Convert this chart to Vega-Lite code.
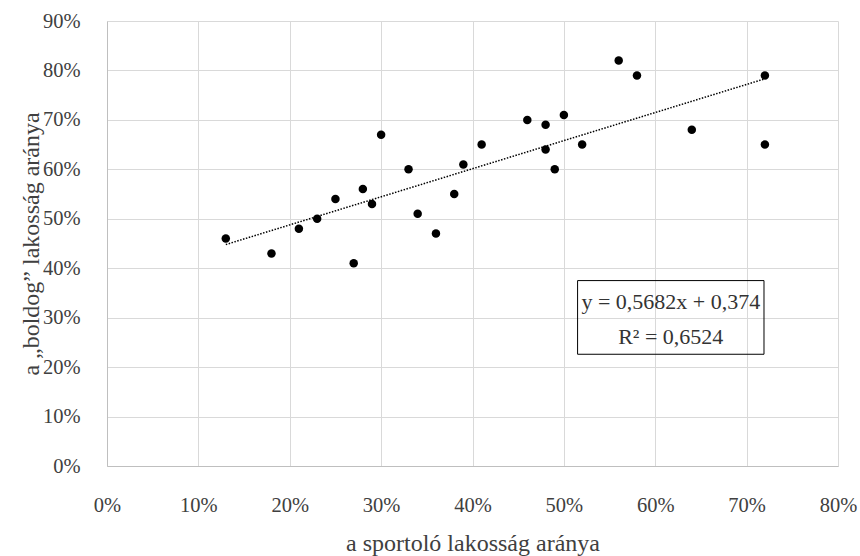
{
  "$schema": "https://vega.github.io/schema/vega-lite/v6.json",
  "width": 731,
  "height": 445,
  "autosize": "none",
  "padding": {"left": 107, "top": 21, "right": 22, "bottom": 90},
  "background": "white",
  "config": {
    "font": "Liberation Serif",
    "view": {"stroke": null},
    "axis": {
      "labelFont": "Liberation Serif",
      "labelFontSize": 20.5,
      "labelColor": "#404040",
      "labelFlush": false,
      "titleFont": "Liberation Serif",
      "titleFontSize": 24,
      "titleFontWeight": "normal",
      "titleColor": "#404040",
      "gridColor": "#d9d9d9",
      "gridWidth": 1,
      "domainColor": "#bfbfbf",
      "domainWidth": 1,
      "ticks": false
    }
  },
  "datasets": {
    "points": [
      {"sport": 0.13, "happy": 0.46},
      {"sport": 0.18, "happy": 0.43},
      {"sport": 0.21, "happy": 0.48},
      {"sport": 0.23, "happy": 0.50},
      {"sport": 0.25, "happy": 0.54},
      {"sport": 0.27, "happy": 0.41},
      {"sport": 0.28, "happy": 0.56},
      {"sport": 0.29, "happy": 0.53},
      {"sport": 0.30, "happy": 0.67},
      {"sport": 0.33, "happy": 0.60},
      {"sport": 0.34, "happy": 0.51},
      {"sport": 0.36, "happy": 0.47},
      {"sport": 0.38, "happy": 0.55},
      {"sport": 0.39, "happy": 0.61},
      {"sport": 0.41, "happy": 0.65},
      {"sport": 0.46, "happy": 0.70},
      {"sport": 0.48, "happy": 0.69},
      {"sport": 0.48, "happy": 0.64},
      {"sport": 0.49, "happy": 0.60},
      {"sport": 0.50, "happy": 0.71},
      {"sport": 0.52, "happy": 0.65},
      {"sport": 0.56, "happy": 0.82},
      {"sport": 0.58, "happy": 0.79},
      {"sport": 0.64, "happy": 0.68},
      {"sport": 0.72, "happy": 0.79},
      {"sport": 0.72, "happy": 0.65}
    ],
    "note": [
      {"eq": "y = 0,5682x + 0,374", "r2": "R² = 0,6524"}
    ]
  },
  "layer": [
    {
      "data": {"name": "points"},
      "mark": {"type": "point", "filled": true, "size": 72, "color": "black", "opacity": 1},
      "encoding": {
        "x": {
          "field": "sport",
          "type": "quantitative",
          "scale": {"domain": [0, 0.8], "nice": false, "zero": true},
          "axis": {
            "title": "a sportoló lakosság aránya",
            "format": ".0%",
            "values": [0, 0.1, 0.2, 0.3, 0.4, 0.5, 0.6, 0.7, 0.8],
            "labelPadding": 29,
            "titlePadding": 16
          }
        },
        "y": {
          "field": "happy",
          "type": "quantitative",
          "scale": {"domain": [0, 0.9], "nice": false, "zero": true},
          "axis": {
            "title": "a „boldog” lakosság aránya",
            "format": ".0%",
            "values": [0, 0.1, 0.2, 0.3, 0.4, 0.5, 0.6, 0.7, 0.8, 0.9],
            "labelPadding": 27,
            "titlePadding": -1
          }
        }
      }
    },
    {
      "data": {"name": "points"},
      "transform": [{"regression": "happy", "on": "sport"}],
      "mark": {"type": "line", "color": "black", "strokeWidth": 1.5, "strokeDash": [1.5, 1.5]},
      "encoding": {
        "x": {"field": "sport", "type": "quantitative"},
        "y": {"field": "happy", "type": "quantitative"}
      }
    },
    {
      "data": {"name": "note"},
      "mark": {"type": "rect", "fillOpacity": 0, "fill": "white", "stroke": "black", "strokeWidth": 1},
      "encoding": {
        "x": {"datum": 0.515},
        "x2": {"datum": 0.719},
        "y": {"datum": 0.375},
        "y2": {"datum": 0.226}
      }
    },
    {
      "data": {"name": "note"},
      "mark": {"type": "text", "fontSize": 22, "font": "Liberation Serif", "color": "#333333", "align": "center", "baseline": "middle"},
      "encoding": {
        "x": {"datum": 0.617},
        "y": {"datum": 0.331},
        "text": {"field": "eq", "type": "nominal"}
      }
    },
    {
      "data": {"name": "note"},
      "mark": {"type": "text", "fontSize": 22, "font": "Liberation Serif", "color": "#333333", "align": "center", "baseline": "middle"},
      "encoding": {
        "x": {"datum": 0.617},
        "y": {"datum": 0.26},
        "text": {"field": "r2", "type": "nominal"}
      }
    }
  ]
}
